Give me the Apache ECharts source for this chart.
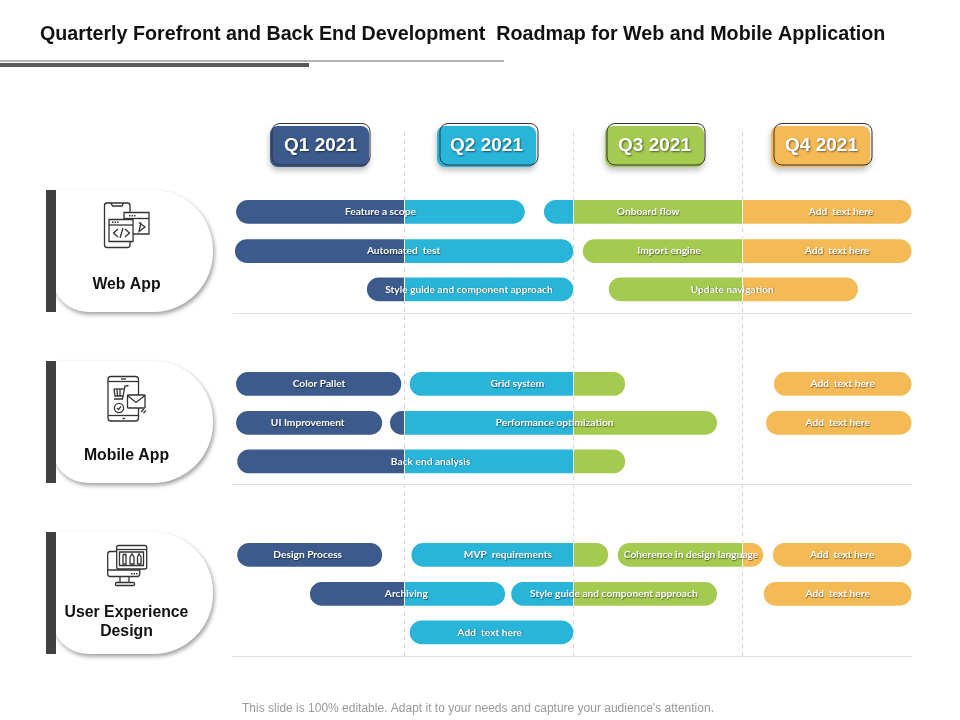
<!DOCTYPE html>
<html>
<head>
<meta charset="utf-8">
<title>Roadmap</title>
<style>
html, body { margin: 0; padding: 0; background: #fff; }
#main { width: 960px; height: 720px; }
</style>
<script src="https://cdn.jsdelivr.net/npm/echarts@6/dist/echarts.min.js"></script>
</head>
<body>
<div id="main"></div>
<script>
// 数据：x 单位是月份(0-12)，每季度 3 个月
var quarterLabels = ['Q1 2021', 'Q2 2021', 'Q3 2021', 'Q4 2021'];
var groupNames = ['Web App', 'Mobile App', 'User Experience\nDesign'];
var rowValues = [0, 1.01, 1.99, 4.42, 5.42, 6.41, 8.81, 9.81, 10.8];
var separatorValues = [2.59, 6.98, 11.41];

// 每根条的行号、起点、终点
var barRows = [0, 0, 1, 1, 2, 2, 3, 3, 3, 4, 4, 4, 5, 6, 6, 6, 6, 7, 7, 7, 8];
var barStarts = [0.02, 5.48, 0, 6.17, 2.34, 6.63, 0.02, 3.1, 9.56, 0.02, 2.75, 9.42, 0.04, 0.04, 3.13, 6.79, 9.54, 1.33, 4.9, 9.38, 3.1];
var barEnds = [5.14, 12, 6, 12, 6, 11.05, 2.95, 6.92, 12, 2.61, 8.55, 12, 6.92, 2.61, 6.62, 9.37, 12, 4.79, 8.55, 12, 6];

// 条上的文字、行号、中心位置
var labelTexts = ['Feature a scope', 'Onboard flow', 'Add  text here', 'Automated  test', 'Import engine', 'Add  text here',
    'Style guide and component approach', 'Update navigation', 'Color Pallet', 'Grid system', 'Add  text here',
    'UI Improvement', 'Performance optimization', 'Add  text here', 'Back end analysis', 'Design Process',
    'MVP  requirements', 'Coherence in design language', 'Add  text here', 'Archiving', 'Style guide and component approach',
    'Add  text here', 'Add  text here'];
var labelRows = [0, 0, 0, 1, 1, 1, 2, 2, 3, 3, 3, 4, 4, 4, 5, 6, 6, 6, 6, 7, 7, 7, 8];
var labelMonths = [2.58, 7.33, 10.75, 2.99, 7.7, 10.68, 4.15, 8.82, 1.49, 5.01, 10.78, 1.29, 5.67, 10.69, 3.47, 1.29, 4.84, 8.09, 10.77, 3.04, 6.72, 10.69, 4.52];

var quarterColors = ['#3C5A8C', '#29B4DA', '#A4CA4F', '#F4BA56'];
var darkLine = '#333333';
var fontArial = '"Liberation Sans", Arial, sans-serif';

// 把数据转成 custom 系列需要的格式
var barData = [];
for (var i = 0; i < barRows.length; i++) {
    barData.push([barStarts[i], barEnds[i], rowValues[barRows[i]]]);
}
var labelData = [];
for (var i = 0; i < labelTexts.length; i++) {
    labelData.push([labelMonths[i], rowValues[labelRows[i]], labelTexts[i]]);
}

// 按季度切开一根条，两端才是圆角，切口画白线
function renderBar(params, api) {
    var start = api.value(0);
    var end = api.value(1);
    var row = api.value(2);
    var h = api.size([0, 0.61])[1];
    var r = h / 2;
    var children = [];
    for (var q = 0; q < 4; q++) {
        var a = Math.max(start, q * 3);
        var b = Math.min(end, (q + 1) * 3);
        if (b <= a) continue;
        var p1 = api.coord([a, row]);
        var p2 = api.coord([b, row]);
        var first = a === start;
        var last = b === end;
        children.push({
            type: 'rect',
            shape: {
                x: p1[0], y: p1[1] - r, width: p2[0] - p1[0], height: h,
                r: [first ? r : 0, last ? r : 0, last ? r : 0, first ? r : 0]
            },
            style: { fill: quarterColors[q] }
        });
        if (!last) {
            var lx = Math.round(p2[0]) + 0.5;
            children.push({
                type: 'line',
                z2: 5,
                shape: { x1: lx, y1: p1[1] - r, x2: lx, y2: p1[1] + r },
                style: { stroke: '#fff', lineWidth: 1 }
            });
        }
    }
    return { type: 'group', children: children };
}

function renderLabel(params, api) {
    var p = api.coord([api.value(0), api.value(1)]);
    return {
        type: 'text',
        x: p[0],
        y: p[1],
        style: {
            text: labelTexts[params.dataIndex],
            fill: '#fff',
            font: 'bold 10.2px Lato, sans-serif',
            align: 'center',
            verticalAlign: 'middle',
            textAlign: 'center',
            textVerticalAlign: 'middle',
            textShadowColor: 'rgba(0,0,0,0.5)',
            textShadowBlur: 1,
            textShadowOffsetX: 0.6,
            textShadowOffsetY: 0.6
        }
    };
}

function renderSeparator(params, api) {
    var p1 = api.coord([-0.05, api.value(0)]);
    var p2 = api.coord([12.01, api.value(0)]);
    var ly = Math.round(p1[1]) + 0.5;
    return {
        type: 'line',
        shape: { x1: p1[0], y1: ly, x2: p2[0], y2: ly },
        style: { stroke: '#DEDEDE', lineWidth: 1 }
    };
}

// 下面是几个画图标用的小函数
function rect(x, y, w, h, r, fill) {
    return { type: 'rect', shape: { x: x, y: y, width: w, height: h, r: r || 0 }, style: { fill: fill || 'none', stroke: darkLine, lineWidth: 1.3 } };
}
function line(pts) {
    return { type: 'polyline', shape: { points: pts }, style: { fill: 'none', stroke: darkLine, lineWidth: 1.3 } };
}
function circle(x, y, r) {
    return { type: 'circle', shape: { cx: x, cy: y, r: r }, style: { fill: '#fff', stroke: darkLine, lineWidth: 1.3 } };
}
function dots(x, y, n) {
    var arr = [];
    for (var i = 0; i < n; i++) {
        arr.push({ type: 'rect', shape: { x: x + i * 2.5, y: y, width: 1.5, height: 1.5 }, style: { fill: darkLine } });
    }
    return arr;
}

var webIcon = [
    rect(104.5, 203, 25.5, 44.5, 2.5),
    line([[111, 203], [112.5, 206], [122, 206], [123.5, 203]]),
    rect(124, 212.5, 25, 21.5, 0, '#fff'),
    line([[124, 218.5], [149, 218.5]]),
    line([[139, 222.5], [145, 227], [139, 231.5], [141, 222.5]]),
    rect(109, 219.5, 24, 22, 0, '#fff'),
    line([[109, 225], [133, 225]]),
    line([[118, 229], [113.5, 233], [118, 237]]),
    line([[125, 229], [129.5, 233], [125, 237]]),
    line([[123, 228], [120, 238]])
].concat(dots(112, 221.5, 3), dots(129, 215, 3));

var mobileIcon = [
    rect(108, 376.5, 30.5, 44.5, 3),
    line([[108, 381.5], [138.5, 381.5]]),
    line([[108, 415.5], [138.5, 415.5]]),
    line([[121, 379], [126, 379]]),
    line([[122.5, 418.5], [125, 418.5]]),
    line([[128.5, 385.5], [125, 386], [122.5, 399], [114, 399]]),
    line([[114, 389], [124, 389]]),
    line([[114, 389], [115, 396], [123, 396]]),
    line([[117, 389], [117.5, 396]]),
    line([[120, 389], [120, 396]]),
    circle(119, 408, 4.6),
    line([[117, 408], [118.5, 409.5], [121, 406.5]]),
    rect(127.5, 395, 17.5, 13, 0.5, '#fff'),
    line([[127.5, 395.5], [136, 402.5], [145, 395.5]]),
    line([[141, 412], [144, 409]]),
    line([[143.5, 413], [146, 410.5]])
];

var uxIcon = [
    rect(107.7, 551.5, 32, 25, 2.5),
    line([[107.7, 570], [139.7, 570]]),
    line([[120, 576.5], [120, 582.5]]),
    line([[129, 576.5], [129, 582.5]]),
    rect(115.5, 582.5, 19, 3, 1),
    rect(116.7, 545.5, 30, 23.5, 2, '#fff'),
    line([[116.7, 549.5], [146.7, 549.5]]),
    rect(119.5, 552, 24, 13.5),
    line([[123, 554.5], [126, 554.5], [126, 564], [123, 564], [123, 554.5]]),
    line([[130, 564], [130, 557], [132, 554], [134, 557], [134, 564], [130, 564]]),
    line([[137.5, 564], [137.5, 557], [139, 554], [141, 557], [141, 564], [137.5, 564]])
].concat(dots(131, 573, 3));

// 左边的白色卡片 + 深色竖条
var panelTops = [190, 361, 532];
var nameLabelY = [285, 456, 622];
var graphicList = [];
for (var i = 0; i < panelTops.length; i++) {
    graphicList.push({
        type: 'rect',
        z: 1,
        shape: { x: 52, y: panelTops[i], width: 161, height: 122, r: [0, 60, 60, 36] },
        style: { fill: '#fff', shadowColor: 'rgba(0,0,0,0.38)', shadowBlur: 4, shadowOffsetX: 1.5, shadowOffsetY: 2.5 }
    });
    graphicList.push({
        type: 'rect',
        z: 2,
        shape: { x: 46, y: panelTops[i], width: 10, height: 122 },
        style: { fill: '#404040' }
    });
    graphicList.push({
        type: 'text',
        z: 3,
        x: 126.5,
        y: nameLabelY[i],
        style: {
            text: groupNames[i],
            fill: '#111',
            font: 'bold 15.8px ' + fontArial,
            lineHeight: 19.5,
            align: 'center',
            verticalAlign: 'middle',
            textAlign: 'center',
            textVerticalAlign: 'middle'
        }
    });
}
var allIcons = webIcon.concat(mobileIcon, uxIcon);
for (var i = 0; i < allIcons.length; i++) {
    allIcons[i].z = 3;
    graphicList.push(allIcons[i]);
}

// 季度标题
var pillFillX = [270, 437, 605, 771];
var pillLineX = [272, 440, 607, 774];
var pillTextX = [320.5, 486.5, 654.5, 821.5];
for (var i = 0; i < quarterLabels.length; i++) {
    graphicList.push({
        type: 'rect',
        z: 4,
        shape: { x: pillFillX[i], y: 126, width: 99, height: 41, r: 8 },
        style: { fill: quarterColors[i], shadowColor: 'rgba(0,0,0,0.28)', shadowBlur: 6, shadowOffsetX: 0, shadowOffsetY: 3 }
    });
    graphicList.push({
        type: 'rect',
        z: 5,
        shape: { x: pillLineX[i], y: 123.5, width: 98, height: 41.5, r: 8 },
        style: { fill: 'none', stroke: darkLine, lineWidth: 1 }
    });
    graphicList.push({
        type: 'text',
        z: 6,
        x: pillTextX[i],
        y: 146,
        style: {
            text: quarterLabels[i],
            fill: '#fff',
            font: 'bold 19px ' + fontArial,
            align: 'center',
            verticalAlign: 'middle',
            textAlign: 'center',
            textVerticalAlign: 'middle',
            textShadowColor: 'rgba(0,0,0,0.5)',
            textShadowBlur: 2,
            textShadowOffsetX: 1,
            textShadowOffsetY: 1
        }
    });
}

// 标题下面两条线、页脚
graphicList.push({ type: 'rect', shape: { x: 0, y: 60, width: 504, height: 2 }, style: { fill: '#B3B3B3' } });
graphicList.push({ type: 'rect', shape: { x: 0, y: 63, width: 309, height: 4 }, style: { fill: '#595959' } });
graphicList.push({
    type: 'text',
    x: 478,
    y: 708.5,
    style: {
        text: "This slide is 100% editable. Adapt it to your needs and capture your audience's attention.",
        fill: '#9A9A9A',
        font: '12px ' + fontArial,
        align: 'center',
        verticalAlign: 'middle',
        textAlign: 'center',
        textVerticalAlign: 'middle'
    }
});

var chart = echarts.init(document.getElementById('main'), null, { renderer: 'canvas' });
var option = {
    animation: false,
    backgroundColor: '#fff',
    title: {
        text: 'Quarterly Forefront and Back End Development  Roadmap for Web and Mobile Application',
        left: 35,
        top: 20,
        textStyle: { fontFamily: fontArial, fontWeight: 'bold', fontSize: 19.7, color: '#111' }
    },
    grid: { left: 235, top: 132, width: 676.5, height: 525 },
    xAxis: {
        type: 'value',
        min: 0,
        max: 12,
        interval: 3,
        axisLine: { show: false },
        axisTick: { show: false },
        axisLabel: { show: false },
        splitLine: {
            show: true,
            showMinLine: false,
            showMaxLine: false,
            lineStyle: { color: '#D6D6DC', type: [4, 4], width: 1 }
        }
    },
    yAxis: {
        type: 'value',
        inverse: true,
        min: -2.05,
        max: 11.43,
        axisLine: { show: false },
        axisTick: { show: false },
        axisLabel: { show: false },
        splitLine: { show: false }
    },
    graphic: graphicList,
    series: [
        { type: 'custom', name: 'separator', renderItem: renderSeparator, data: separatorValues.map(function(v) { return [v]; }), encode: { y: 0 }, clip: false, silent: true, z: 2 },
        { type: 'custom', name: 'bars', renderItem: renderBar, data: barData, encode: { x: [0, 1], y: 2 }, clip: false, silent: true, z: 3 },
        { type: 'custom', name: 'labels', renderItem: renderLabel, data: labelData, encode: { x: 0, y: 1 }, clip: false, silent: true, z: 4 }
    ]
};
chart.setOption(option);
</script>
</body>
</html>
